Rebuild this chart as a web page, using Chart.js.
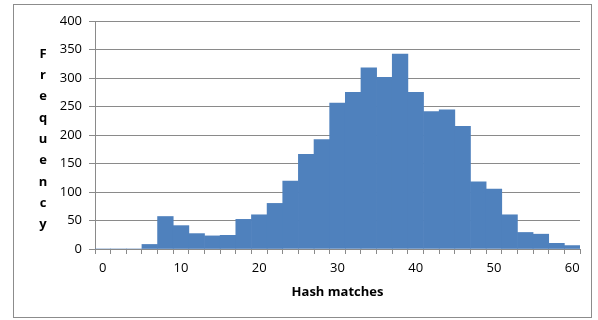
<!DOCTYPE html>
<html>
<head>
<meta charset="utf-8">
<script src="https://cdn.jsdelivr.net/npm/chart.js@4.4.1/dist/chart.umd.min.js"></script>
<style>
    html, body { margin: 0; padding: 0; background: #fff; }
    #wrap { width: 598px; height: 320px; position: relative; }
</style>
</head>
<body>
<div id="wrap"><canvas id="chartCanvas" width="598" height="320"></canvas></div>
<script>
// histogram bins (hash matches) and their counts
const binLabels = ["0", "2", "4", "6", "8", "10", "12", "14", "16", "18", "20",
    "22", "24", "26", "28", "30", "32", "34", "36", "38", "40",
    "42", "44", "46", "48", "50", "52", "54", "56", "58", "60"];
const frequency = [0, 0, 0, 8, 57, 41, 27, 23, 24, 52, 60,
    80, 119, 166, 192, 256, 275, 318, 301, 342, 275,
    241, 244, 215, 118, 105, 60, 29, 26, 10, 6];
const shownTicks = ["0", "10", "20", "30", "40", "50", "60"];
const yTitle = "Frequency";
const xTitle = "Hash matches";

const FONT = "'Open Sans', 'Liberation Sans', sans-serif";
const GRID = "#8a8a8a";

// outer frame + stacked letters of the y title
const framePlugin = {
    id: "frame",
    beforeDraw(chart) {
        const ctx = chart.ctx;
        ctx.save();
        ctx.fillStyle = "#fff";
        ctx.fillRect(0, 0, chart.width, chart.height);
        ctx.strokeStyle = "#8c8c8c";
        ctx.lineWidth = 1;
        ctx.strokeRect(13.5, 4.5, 578, 313);
        ctx.restore();
    },
    afterDraw(chart) {
        const ctx = chart.ctx;
        ctx.save();
        ctx.font = "bold 13px " + FONT;
        ctx.fillStyle = "#000";
        ctx.textAlign = "center";
        ctx.textBaseline = "middle";
        yTitle.split("").forEach((ch, i) => {
            ctx.fillText(ch, 43, 54 + i * 21.3);
        });
        ctx.restore();
    }
};

const ctx = document.getElementById("chartCanvas").getContext("2d");
new Chart(ctx, {
    type: "bar",
    data: {
        labels: binLabels,
        datasets: [{
            data: frequency,
            backgroundColor: "#4f81bd",
            borderWidth: 0,
            barPercentage: 1,
            categoryPercentage: 1,
        }]
    },
    options: {
        responsive: false,
        animation: false,
        devicePixelRatio: 1,
        layout: { padding: { left: 45, right: 18, top: 21, bottom: 16 } },
        plugins: {
            legend: { display: false },
            tooltip: { enabled: false },
        },
        scales: {
            x: {
                offset: true,
                grid: {
                    offset: true,
                    drawOnChartArea: false,
                    drawTicks: true,
                    tickLength: 5,
                    color: GRID,
                },
                border: { color: GRID, width: 1 },
                ticks: {
                    autoSkip: false,
                    maxRotation: 0,
                    padding: 6,
                    color: "#000",
                    font: { family: FONT, size: 13 },
                    callback(value) {
                        const lbl = binLabels[value];
                        return shownTicks.includes(lbl) ? lbl : "";
                    }
                },
                title: {
                    display: true,
                    text: xTitle,
                    color: "#000",
                    font: { family: FONT, size: 13, weight: "bold" },
                    padding: { top: 4, bottom: 4 },
                },
                afterFit(scale) { scale.height = 55; }
            },
            y: {
                min: 0,
                max: 400,
                ticks: {
                    stepSize: 50,
                    padding: 7,
                    color: "#000",
                    font: { family: FONT, size: 13 },
                },
                grid: {
                    color: GRID,
                    drawTicks: true,
                    tickLength: 6,
                },
                border: { color: GRID, width: 1 },
                afterFit(scale) { scale.width = 50; }
            }
        }
    },
    plugins: [framePlugin]
});
</script>
</body>
</html>
